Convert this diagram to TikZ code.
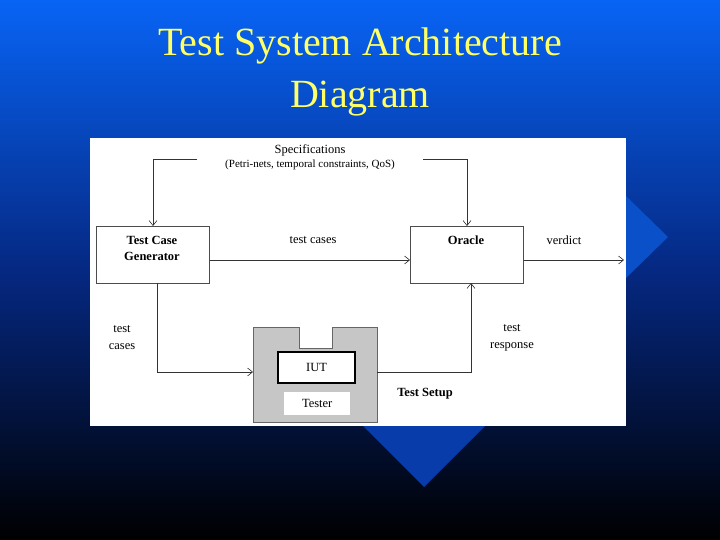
\documentclass[tikz,border=0pt]{standalone}
\usepackage{fontspec}
\setmainfont{Liberation Serif}
\usetikzlibrary{arrows.meta}
\definecolor{bgtop}{RGB}{8,100,245}
\definecolor{bgmid}{RGB}{5,40,130}
\definecolor{diam}{RGB}{10,80,200}
\definecolor{diamb}{RGB}{8,60,170}
\definecolor{ttl}{RGB}{255,255,102}
\begin{document}
\begin{tikzpicture}[x=1pt,y=-1pt,
  lbl/.style={font=\fontsize{12.5}{14}\selectfont,inner sep=0pt},
  box/.style={draw=black!70,fill=white,line width=0.6pt},
  con/.style={draw=black!80,line width=0.6pt,-{Straight Barb[length=5pt,width=8pt]}}]
\useasboundingbox (0,0) rectangle (720,540);
\shade[top color=bgtop,bottom color=black,middle color=bgmid] (0,0) rectangle (720,540);
\fill[diam] (626,196) -- (668,237) -- (626,278) -- (584,237) -- cycle;
\fill[diamb] (424,365) -- (485,426) -- (424,487) -- (363,426) -- cycle;
\node[text=ttl,font=\fontsize{40}{52}\selectfont,align=center] (title) at (360,72) {Test System Architecture\\Diagram};
\fill[white] (90,138) rectangle (626,426);
% test setup block
\fill[gray!45,draw=black!60,line width=0.5pt] (253,327) -- (299,327) -- (299,348) -- (332,348) -- (332,327) -- (377,327) -- (377,422) -- (253,422) -- cycle;
\node[draw=black,line width=2pt,fill=white,minimum width=77pt,minimum height=31pt,lbl,anchor=north west] (iut) at (277,351) {};
\node[lbl] at (iut.center) {IUT};
\node[fill=white,minimum width=66pt,minimum height=23pt,lbl,anchor=north west] (tester) at (284,392) {Tester};
\coordinate (setupL) at (253,372);
\coordinate (setupR) at (377,372);
\node[lbl,font=\fontsize{12.5}{14}\selectfont\bfseries] (setup) at (425,394) {Test Setup};
% boxes
\node[box,minimum width=113pt,minimum height=57pt,anchor=north west] (tcg) at (96,226) {};
\node[lbl,font=\fontsize{12.5}{16}\selectfont\bfseries,align=center] at (152,248) {Test Case\\Generator};
\node[box,minimum width=113pt,minimum height=57pt,anchor=north west] (oracle) at (410,226) {};
\node[lbl,font=\fontsize{12.5}{14}\selectfont\bfseries] at (466,240) {Oracle};
\node[lbl,align=center] (spec) at (310,157) {Specifications\\[0pt]{\fontsize{11}{12}\selectfont(Petri-nets, temporal constraints, QoS)}};
\node[lbl] (tc1) at (313,240) {test cases};
\node[lbl] (verdict) at (564,240) {verdict};
\node[lbl,align=center,font=\fontsize{12.5}{17}\selectfont] (tc2) at (122,338) {test\\cases};
\node[lbl,align=center,font=\fontsize{12.5}{17}\selectfont] (tr) at (512,338) {test\\response};
\coordinate (verdictEnd) at (624,260);
% connectors
\draw[con] (197,159) -- (153,159) -- (153,226);
\draw[con] (423,159) -- (467,159) -- (467,226);
\draw[con] (tcg.east |- 0,260) -- (oracle.west |- 0,260);
\draw[con] (oracle.east |- 0,260) -- (verdictEnd);
\draw[con] (157,283) -- (157,372) -- (setupL);
\draw[con] (setupR) -- (471,372) -- (471,283);
\end{tikzpicture}
\end{document}
